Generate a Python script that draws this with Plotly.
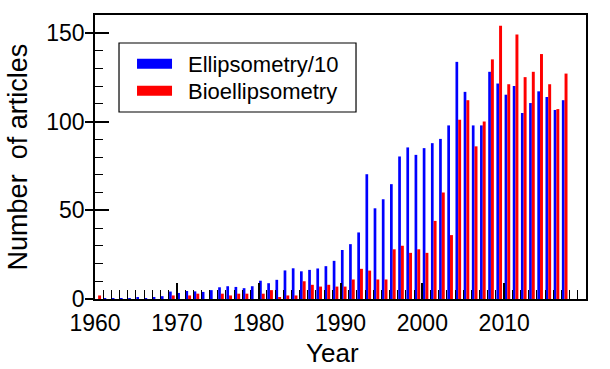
import plotly.graph_objects as go

# Publication counts per year
years = list(range(1960, 2018))

ellipsometry_div10 = [
    0.0, 0.5, 0.3, 0.3, 0.5, 0.6, 0.5, 0.8, 1.6, 4.2,
    3.4, 4.5, 4.3, 4.0, 5.0, 6.6, 7.2, 6.8, 6.1, 7.2,
    10.3, 8.9, 10.8, 16.1, 17.3, 15.6, 16.4, 17.2, 18.5, 21.5,
    27.6, 30.9, 37.5, 70.3, 51.1, 56.2, 64.7, 80.3, 85.4, 81.2,
    85.0, 87.8, 90.2, 97.8, 133.6, 116.7, 97.8, 97.8, 128.0, 121.4,
    115.1, 120.0, 104.8, 110.4, 117.0, 113.8, 106.5, 112.0,
]

bioellipsometry = [
    2, 0, 0, 0, 0, 0, 0, 0, 0, 2,
    0, 2, 3, 0, 0, 3, 2, 3, 3, 0,
    3, 5, 1, 2, 2, 10, 8, 7, 8, 7,
    7, 11, 17, 16, 11, 11, 28, 30, 26, 28,
    26, 44, 60, 36, 101, 112, 86, 100, 135, 154,
    121, 149, 125, 128, 138, 121, 107, 127,
]

series_names = ["Ellipsometry/10", "Bioellipsometry"]
series_colors = ["#0000FF", "#FF0000"]

y_tick_vals = [0, 50, 100, 150]
x_tick_vals = [1960, 1970, 1980, 1990, 2000, 2010, 2020]

FONT = "Liberation Sans, Arial, sans-serif"

fig = go.Figure()

# bars: blue then red, side by side just right of each year tick
fig.add_trace(go.Bar(
    x=years, y=ellipsometry_div10, name=series_names[0],
    marker=dict(color=series_colors[0], line=dict(width=0)),
    offset=0.05, width=0.33, showlegend=False,
))
fig.add_trace(go.Bar(
    x=years, y=bioellipsometry, name=series_names[1],
    marker=dict(color=series_colors[1], line=dict(width=0)),
    offset=0.38, width=0.36, showlegend=False,
))

# legend entries drawn as wide colour swatches, one legend per row
for i, (name, color) in enumerate(zip(series_names, series_colors)):
    fig.add_trace(go.Scatter(
        x=[None], y=[None], mode="lines", name="\u2002" + name,
        line=dict(color=color, width=12),
        yaxis="y2", hoverinfo="skip",
        legend="legend" if i == 0 else "legend2",
    ))

legend_common = dict(
    x=0.0754, xanchor="left", yanchor="middle",
    bgcolor="rgba(0,0,0,0)", borderwidth=0,
    font=dict(family=FONT, size=22, color="black"),
    itemwidth=35,
)

fig.update_layout(
    width=610, height=369,
    margin=dict(l=95, r=24, t=15, b=70),
    paper_bgcolor="white", plot_bgcolor="white",
    barmode="overlay",
    font=dict(family=FONT, color="black", size=22),
    showlegend=True,
    legend=dict(y=0.8275, **legend_common),
    legend2=dict(y=0.7324, **legend_common),
    shapes=[
        # frame around the legend rows
        dict(type="rect", xref="paper", yref="paper",
             x0=0.0489, x1=0.5316, y0=0.6585, y1=0.9014,
             line=dict(color="black", width=1.2), fillcolor="white",
             layer="above"),
    ],
    xaxis=dict(
        range=[1960, 2020],
        tickmode="array", tickvals=x_tick_vals,
        ticks="inside", ticklen=16, tickwidth=1.5, tickcolor="black",
        minor=dict(ticks="inside", dtick=1, tick0=1960, ticklen=9,
                   tickwidth=1.3, tickcolor="black"),
        showline=True, linecolor="black", linewidth=1.6, mirror=True,
        showgrid=False, zeroline=False,
        tickfont=dict(family=FONT, size=23, color="black"),
        ticklabelstandoff=3,
    ),
    yaxis=dict(
        range=[0, 160],
        tickmode="array", tickvals=y_tick_vals,
        ticks="inside", ticklen=14, tickwidth=1.5, tickcolor="black",
        minor=dict(ticks="inside", dtick=10, tick0=0, ticklen=8,
                   tickwidth=1.3, tickcolor="black"),
        showline=True, linecolor="black", linewidth=1.6, mirror=True,
        showgrid=False, zeroline=False,
        tickfont=dict(family=FONT, size=23, color="black"),
        ticklabelstandoff=4,
    ),
    # outer half of the major y ticks
    yaxis2=dict(
        range=[0, 160], overlaying="y", side="left",
        tickmode="array", tickvals=y_tick_vals,
        ticks="outside", ticklen=9, tickwidth=1.5, tickcolor="black",
        showticklabels=False, showline=False, showgrid=False, zeroline=False,
    ),
    annotations=[
        dict(text="Year", xref="paper", yref="paper", x=0.4837, y=-0.19,
             xanchor="center", yanchor="middle", showarrow=False,
             font=dict(family=FONT, size=26, color="black")),
        dict(text="Number\u00a0 of articles", xref="paper", yref="paper",
             x=-0.156, y=0.5, xanchor="center", yanchor="middle",
             textangle=-90, showarrow=False,
             font=dict(family=FONT, size=27, color="black")),
    ],
)

fig.write_html("out.html")
